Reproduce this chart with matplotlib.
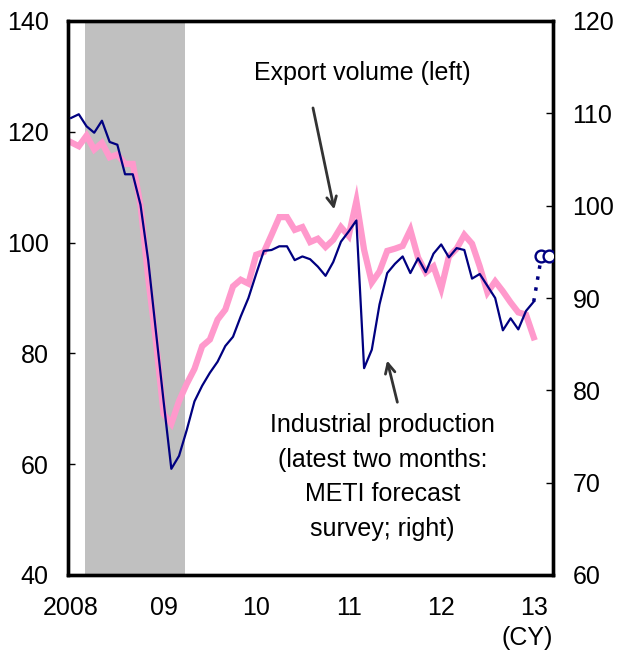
import numpy as np
import matplotlib
matplotlib.use('Agg')
import matplotlib.pyplot as plt

plt.rcParams['font.family'] = ['Liberation Sans', 'DejaVu Sans']

# monthly, Jan 2008 .. Jan 2013
export_volume = [118.1, 117.4, 119.3, 116.8, 118.0, 115.4, 115.9, 114.2, 114.2, 106.8,
                 93.6, 82.2, 69.1, 67.3, 71.4, 74.5, 77.2, 81.3, 82.5, 86.1,
                 87.9, 92.1, 93.3, 92.6, 97.8, 98.3, 101.4, 104.6, 104.6, 102.3,
                 102.8, 100.1, 100.7, 99.2, 100.5, 102.8, 101.2, 107.5, 98.7, 92.8,
                 94.8, 98.5, 98.9, 99.4, 102.3, 97.3, 94.6, 95.7, 91.7, 97.5,
                 98.9, 101.4, 99.8, 95.7, 91.0, 93.0, 91.2, 89.2, 87.4, 87.0,
                 82.9]
industrial_prod = [109.5, 109.9, 108.6, 107.9, 109.2, 106.9, 106.6, 103.4, 103.4, 100.1,
                   94.1, 86.4, 78.8, 71.5, 72.9, 75.7, 78.8, 80.5, 81.9, 83.1,
                   84.8, 85.8, 88.0, 90.0, 92.6, 95.1, 95.2, 95.6, 95.6, 94.1,
                   94.5, 94.2, 93.4, 92.4, 93.9, 96.1, 97.2, 98.4, 82.4, 84.4,
                   89.3, 92.7, 93.7, 94.5, 92.7, 94.3, 92.8, 94.8, 95.8, 94.4,
                   95.4, 95.2, 92.1, 92.6, 91.3, 90.0, 86.5, 87.8, 86.6, 88.6,
                   89.6]
# METI forecast survey, Feb & Mar 2013
ip_forecast = [94.5, 94.6]

year_labels = ['2008', '09', '10', '11', '12', '13']
recession = (1.8, 14.8)   # Feb 2008 - Mar 2009

pink = '#FF99CC'
navy = '#000080'
arrow_col = '#333333'

months = np.arange(len(export_volume))
fc_months = np.arange(len(industrial_prod) - 1, len(industrial_prod) + len(ip_forecast))

fig = plt.figure(figsize=(6.19, 6.57), dpi=100)
ax = fig.add_axes([68/619, 1-575/657, (553-68)/619, (575-21)/657])
ax2 = ax.twinx()

ax.axvspan(recession[0], recession[1], color='#C0C0C0', lw=0, zorder=0)
ax.plot(months, export_volume, color=pink, lw=4.5, solid_joinstyle='miter', zorder=2)

ax2.plot(months, industrial_prod, color=navy, lw=1.6, zorder=3)
ax2.plot(fc_months, [industrial_prod[-1]] + ip_forecast, color=navy, lw=2.5,
         ls=(0, (1, 2.2)), zorder=3)
ax2.plot(fc_months[1:], ip_forecast, ls='none', marker='o', ms=8.5, mfc='white',
         mec=navy, mew=1.7, zorder=4)

ax.set_xlim(-0.4, 62.5)
ax.set_ylim(40, 140)
ax2.set_ylim(60, 120)
ax.set_yticks(np.arange(40, 141, 20))
ax2.set_yticks(np.arange(60, 121, 10))
ax.set_xticks(np.arange(0, 61, 12))
ax.set_xticklabels(year_labels)

for a in (ax, ax2):
    for s in a.spines.values():
        s.set_linewidth(2.4)
ax.tick_params(axis='y', direction='in', length=5, width=1, labelsize=18, pad=14)
ax2.tick_params(axis='y', direction='in', length=5, width=1, labelsize=18, pad=14)
ax.tick_params(axis='x', length=0, labelsize=18, pad=15)

fig.text(527/619, 1-638/657, '(CY)', fontsize=18, ha='center', va='center')

ax.text(37.8, 130.6, 'Export volume (left)', fontsize=18, ha='center', va='center')
ax.annotate('', xy=(34.2, 105.5), xytext=(31.3, 124.8),
            arrowprops=dict(arrowstyle='->,head_length=0.7,head_width=0.35',
                            color=arrow_col, lw=2))
ax.annotate('', xy=(40.9, 79.2), xytext=(42.4, 70.7),
            arrowprops=dict(arrowstyle='->,head_length=0.7,head_width=0.35',
                            color=arrow_col, lw=2))
ax.text(40.4, 69.2, 'Industrial production\n(latest two months:\nMETI forecast\nsurvey; right)',
        fontsize=18, ha='center', va='top', linespacing=1.55)

fig.savefig('out.png', dpi=100)
